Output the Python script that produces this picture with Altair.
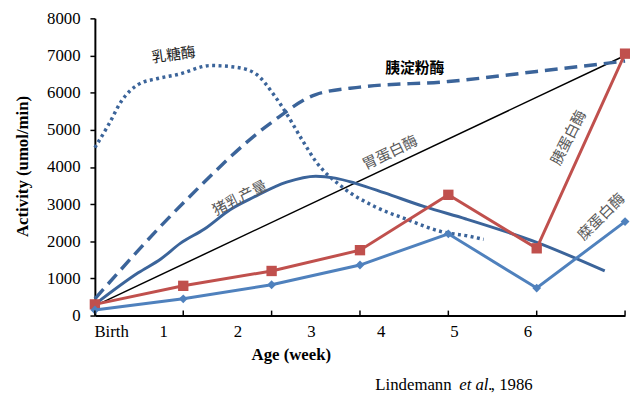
import altair as alt
import pandas as pd

# ---- data ----
weeks = [0, 1, 2, 3, 4, 5, 6]
week_labels = ["Birth", "1", "2", "3", "4", "5", "6"]
week_label_pos = [0.19, 0.78, 1.62, 2.45, 3.24, 4.07, 4.90]

trypsin = [300, 800, 1200, 1760, 3250, 1810, 7050]          # 胰蛋白酶
chymotrypsin = [150, 450, 830, 1360, 2200, 740, 2530]        # 糜蛋白酶

pepsin_x = [0, 6]
pepsin = [260, 7000]                                         # 胃蛋白酶

amylase_x = [0, 1, 2, 2.5, 3, 4, 5, 6]
amylase = [450, 3030, 5200, 5950, 6150, 6300, 6570, 6850]    # 胰淀粉酶

lactase_x = [0, 0.16, 0.3, 0.49, 0.71, 0.94, 1.31, 1.61, 1.83, 2.02, 2.17,
             2.35, 2.5, 2.8, 3.17, 3.54, 3.92, 4.25, 4.4]
lactase = [4520, 5160, 5770, 6220, 6380, 6490, 6730, 6680, 6490, 5960, 5430,
           4710, 4150, 3460, 2930, 2580, 2260, 2130, 2050]   # 乳糖酶

milk_x = [0, 0.49, 0.75, 0.97, 1.24, 1.53, 1.8, 2.17, 2.5, 2.72, 2.95, 3.28,
          3.73, 4.2, 5.0, 5.77]
milk = [300, 1150, 1530, 1950, 2330, 2850, 3190, 3590, 3750, 3700, 3560, 3300,
        2930, 2600, 1970, 1200]                              # 猪乳产量

y_ticks = [0, 1000, 2000, 3000, 4000, 5000, 6000, 7000, 8000]

ann_text = ["乳糖酶", "胃蛋白酶", "猪乳产量", "胰蛋白酶", "糜蛋白酶"]
ann_x = [0.89, 3.34, 1.64, 5.36, 5.73]
ann_y = [7020, 4390, 3165, 4790, 2660]
ann_angle = [352, 334, 333, 297, 315]
ann_color = ["#222222", "#595959", "#595959", "#595959", "#595959"]

SERIF = "Times New Roman, Liberation Serif, DejaVu Serif, serif"
CJK = "Noto Sans CJK SC"
W, H = 537, 301

xs = alt.Scale(domain=[0, 6], nice=False, zero=False)
ys = alt.Scale(domain=[0, 8000], nice=False)

DARK = "#3B649A"
RED = "#C0504D"
BLUE = "#4F81BD"

x_axis = alt.Axis(values=weeks, labels=False, ticks=False, title=None,
                  domainColor="black", domainWidth=2, grid=False)
y_axis = alt.Axis(values=y_ticks, title=None, grid=False, domainColor="black",
                  domainWidth=2, tickColor="black", tickWidth=1.5, tickSize=5,
                  labelFont=SERIF, labelFontSize=17, labelColor="black",
                  labelPadding=10, format="d", labelOverlap=False)


def X(field="x:Q"):
    return alt.X(field, scale=xs, axis=x_axis)


def Y(field="y:Q"):
    return alt.Y(field, scale=ys, axis=y_axis)


df_pep = pd.DataFrame({"x": pepsin_x, "y": pepsin})
base_pep = alt.Chart(df_pep).mark_line(color="black", strokeWidth=1.5).encode(
    x=X(), y=Y())


def curve(xv, yv, **kw):
    return alt.Chart(pd.DataFrame({"x": xv, "y": yv})).mark_line(
        color=DARK, interpolate="monotone", **kw).encode(x=X(), y=Y())


lac = curve(lactase_x, lactase, strokeWidth=3.5, strokeDash=[3, 3.5])
amy = curve(amylase_x, amylase, strokeWidth=3.5, strokeDash=[13, 7])
mil = curve(milk_x, milk, strokeWidth=3)

df_tr = pd.DataFrame({"x": weeks, "y": trypsin})
tr = alt.Chart(df_tr).mark_line(
    color=RED, strokeWidth=3,
    point=alt.OverlayMarkDef(shape="square", size=110, color=RED, filled=True, opacity=1)
).encode(x=X(), y=Y())

df_ch = pd.DataFrame({"x": weeks, "y": chymotrypsin})
ch = alt.Chart(df_ch).mark_line(
    color=BLUE, strokeWidth=3,
    point=alt.OverlayMarkDef(shape="diamond", size=80, color=BLUE, filled=True, opacity=1)
).encode(x=X(), y=Y())

# inward x ticks
df_xt = pd.DataFrame({"x": weeks})
xticks = alt.Chart(df_xt).mark_rule(color="black", strokeWidth=1.5).encode(
    x=X(), y=alt.value(H), y2=alt.value(H - 5))

# x labels
df_xl = pd.DataFrame({"x": week_label_pos, "t": week_labels})
xlabels = alt.Chart(df_xl).mark_text(font=SERIF, fontSize=17, color="black",
                                     baseline="middle").encode(
    x=X(), y=alt.value(H + 17), text="t:N")

# annotations
df_ann = pd.DataFrame({"x": ann_x, "y": ann_y, "t": ann_text, "a": ann_angle, "c": ann_color})
ann = alt.Chart(df_ann).mark_text(font=CJK, fontSize=15, baseline="middle").encode(
    x=X(), y=Y(), text="t:N",
    angle=alt.Angle("a:Q", scale=None), color=alt.Color("c:N", scale=None))

df_amy_lab = pd.DataFrame({"x": [3.62], "y": [6650], "t": ["胰淀粉酶"]})
amy_lab = alt.Chart(df_amy_lab).mark_text(font=CJK, fontSize=15, fontWeight="bold",
                                          color="black", baseline="middle").encode(
    x=X(), y=Y(), text="t:N")

# axis titles
ytitle = alt.Chart(pd.DataFrame({"t": ["Activity (umol/min)"]})).mark_text(
    font=SERIF, fontSize=17, fontWeight="bold", angle=270, color="black",
    baseline="middle").encode(x=alt.value(-73), y=alt.value(150), text="t:N")
xtitle = alt.Chart(pd.DataFrame({"t": ["Age (week)"]})).mark_text(
    font=SERIF, fontSize=17, fontWeight="bold", color="black",
    baseline="middle").encode(x=alt.value(199), y=alt.value(H + 40), text="t:N")

cite1 = alt.Chart(pd.DataFrame({"t": ["Lindemann"]})).mark_text(
    font=SERIF, fontSize=17, color="black", align="left", baseline="middle").encode(
    x=alt.value(284), y=alt.value(H + 70), text="t:N")
cite2 = alt.Chart(pd.DataFrame({"t": ["et al."]})).mark_text(
    font=SERIF, fontSize=17, fontStyle="italic", color="black", align="left", baseline="middle").encode(
    x=alt.value(369), y=alt.value(H + 70), text="t:N")
cite3 = alt.Chart(pd.DataFrame({"t": [", 1986"]})).mark_text(
    font=SERIF, fontSize=17, color="black", align="left", baseline="middle").encode(
    x=alt.value(401), y=alt.value(H + 70), text="t:N")

chart = alt.layer(base_pep, lac, amy, mil, tr, ch, xticks, xlabels, ann, amy_lab,
                  ytitle, xtitle, cite1, cite2, cite3).properties(
    width=W, height=H,
    padding={"left": 88, "top": 8, "right": 5, "bottom": 80},
    autosize=alt.AutoSizeParams(type="none"),
).configure_view(stroke=None)

chart.save("out.html", embed_options={"renderer": "svg", "actions": False})
